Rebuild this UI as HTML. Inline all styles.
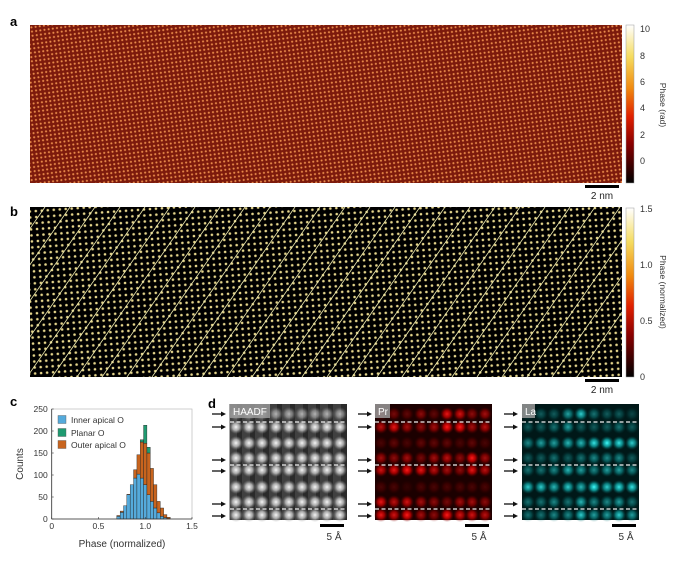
<!DOCTYPE html>
<html><head><meta charset="utf-8"><style>
body{margin:0;background:#fff;}
svg{display:block;font-family:"Liberation Sans",sans-serif;}
</style></head><body>
<svg id="fig" width="676" height="564" viewBox="0 0 676 564">
<defs>
<pattern id="patA" width="4.2" height="4.2" patternUnits="userSpaceOnUse" patternTransform="rotate(-8)">
<rect width="4.2" height="4.2" fill="#7c1a0c"/><circle cx="2.1" cy="2.1" r="1.05" fill="#e88a4a"/>
</pattern>
<pattern id="patB" width="6" height="6" patternUnits="userSpaceOnUse" patternTransform="rotate(-4)">
<rect width="6" height="6" fill="#000"/><circle cx="3" cy="3" r="1.3" fill="#e6d68c"/>
</pattern>
<linearGradient id="cmap" x1="0" y1="1" x2="0" y2="0">
<stop offset="0" stop-color="#000"/><stop offset="0.25" stop-color="#8a0000"/><stop offset="0.42" stop-color="#e02000"/>
<stop offset="0.6" stop-color="#f08a10"/><stop offset="0.8" stop-color="#f5dc60"/><stop offset="1" stop-color="#ffffff"/>
</linearGradient>
<radialGradient id="gW"><stop offset="0" stop-color="#fff"/><stop offset="0.5" stop-color="#ccc" stop-opacity="0.8"/><stop offset="1" stop-color="#888" stop-opacity="0"/></radialGradient>
<radialGradient id="gR"><stop offset="0" stop-color="#ff1a1a"/><stop offset="0.5" stop-color="#d00000" stop-opacity="0.8"/><stop offset="1" stop-color="#600" stop-opacity="0"/></radialGradient>
<radialGradient id="gC"><stop offset="0" stop-color="#40ffff"/><stop offset="0.5" stop-color="#10b0b0" stop-opacity="0.8"/><stop offset="1" stop-color="#055" stop-opacity="0"/></radialGradient>
</defs>

<!-- panel labels -->
<text x="10" y="26" font-size="13" font-weight="bold">a</text>
<text x="10" y="216" font-size="13" font-weight="bold">b</text>
<text x="10" y="406" font-size="13" font-weight="bold">c</text>
<text x="208" y="408" font-size="13" font-weight="bold">d</text>

<!-- panel a -->
<rect x="30" y="25" width="592" height="158" fill="url(#patA)"/>
<rect x="626" y="25" width="8" height="158" fill="url(#cmap)" stroke="#999" stroke-width="0.5"/>
<g font-size="9" fill="#333">
<text x="640" y="32">10</text><text x="640" y="59">8</text><text x="640" y="85">6</text><text x="640" y="111">4</text><text x="640" y="138">2</text><text x="640" y="164">0</text>
</g>
<text transform="translate(660,105) rotate(90)" font-size="8.5" fill="#333" text-anchor="middle">Phase (rad)</text>
<rect x="585" y="185" width="34" height="3" fill="#000"/>
<text x="602" y="199" font-size="10" text-anchor="middle" fill="#222">2 nm</text>

<!-- panel b -->
<rect x="30" y="207" width="592" height="170" fill="url(#patB)"/>
<g id="bLines" stroke="#f0ecb0" stroke-width="0.8"></g>
<rect x="626" y="208" width="8" height="169" fill="url(#cmap)" stroke="#999" stroke-width="0.5"/>
<g font-size="9" fill="#333">
<text x="640" y="212">1.5</text><text x="640" y="268">1.0</text><text x="640" y="324">0.5</text><text x="640" y="380">0</text>
</g>
<text transform="translate(660,292) rotate(90)" font-size="8.5" fill="#333" text-anchor="middle">Phase (normalized)</text>
<rect x="585" y="379" width="34" height="3" fill="#000"/>
<text x="602" y="393" font-size="10" text-anchor="middle" fill="#222">2 nm</text>

<!-- panel c -->
<g id="hist"></g>

<!-- panel d -->
<g id="pd"></g>
</svg>
<script>
// ---- Panel c data ----
const binCenters = [0.714,0.75,0.786,0.821,0.857,0.893,0.929,0.964,1.0,1.036,1.071,1.107,1.143,1.179,1.214,1.25];
const innerApical = [6,15,30,55,78,93,102,93,78,55,40,25,14,6,3,1];
const outerApical = [2,3,0,1,0,19,44,82,94,95,75,53,26,19,7,3];
const planar = [0,0,0,0,0,0,0,5,41,13,0,0,0,0,0,0];
const xTicks = [0,0.5,1.0,1.5];
const yTicks = [0,50,100,150,200,250];
const binWidth = 0.0357;

const NS="http://www.w3.org/2000/svg";
function mk(tag,attrs,parent){const e=document.createElementNS(NS,tag);for(const k in attrs)e.setAttribute(k,attrs[k]);parent.appendChild(e);return e;}

const px0=51.7,px1=192,py0=519,py1=409;
const xs=v=>px0+(v/1.5)*(px1-px0);
const ys=v=>py0-(v/250)*(py0-py1);
const H=document.getElementById('hist');
const frame=mk('rect',{x:px0,y:py1,width:px1-px0,height:py0-py1,fill:'none',stroke:'#bbb','stroke-width':0.7},H);


const series=[[innerApical,'#55aadb','inner'],[outerApical,'#c8641e','outer'],[planar,'#1f9a70','planar']];
binCenters.forEach((c,i)=>{
  let base=0;
  series.forEach(([arr,col,nm])=>{
    const v=arr[i]; if(v<=0) return;
    const r=mk('rect',{x:xs(c-binWidth/2),y:ys(base+v),width:xs(binWidth)-xs(0),height:ys(base)-ys(base+v),fill:col,stroke:'#222','stroke-width':0.4},H);
    
    
    base+=v;
  });
});
const ax=mk('line',{x1:px0,y1:py0,x2:px1,y2:py0,stroke:'#333','stroke-width':0.8},H);


const ay=mk('line',{x1:px0,y1:py0,x2:px0,y2:py1,stroke:'#333','stroke-width':0.8},H);


xTicks.forEach(t=>{
  mk('line',{x1:xs(t),y1:py0,x2:xs(t),y2:py0-2,stroke:'#333','stroke-width':0.6},H);
  const tx=mk('text',{x:xs(t),y:py0+10,'font-size':8.5,'text-anchor':'middle',fill:'#333'},H);
  tx.textContent=t===0?'0':t.toFixed(1);
  
  
});
yTicks.forEach(t=>{
  mk('line',{x1:px0,y1:ys(t),x2:px0+2,y2:ys(t),stroke:'#333','stroke-width':0.6},H);
  const tx=mk('text',{x:px0-4,y:ys(t)+3,'font-size':8.5,'text-anchor':'end',fill:'#333'},H);
  tx.textContent=t;
  
  
});
const xt=mk('text',{x:122,y:547,'font-size':10,'text-anchor':'middle',fill:'#333'},H);
xt.textContent='Phase (normalized)';


const yt=mk('text',{transform:'translate(23,464) rotate(-90)','font-size':10,'text-anchor':'middle',fill:'#333'},H);
yt.textContent='Counts';


[['Inner apical O','#55aadb',420],['Planar O','#1f9a70',433],['Outer apical O','#c8641e',445]].forEach(([l,c,y],i)=>{
  const b=mk('rect',{x:58,y:y-4.5,width:8,height:8,fill:c,stroke:'#555','stroke-width':0.4},H);
  
  
  const t=mk('text',{x:71,y:y+3,'font-size':8.5,fill:'#333'},H);
  t.textContent=l;
  
  
});

// ---- Panel b diagonal lines ----
const BL=document.getElementById('bLines');
for(let x=20;x<720;x+=25){
  const x1=x-118,y1=377,x2=x,y2=207;
  mk('line',{x1:x1,y1:y1,x2:x2,y2:y2},BL);
}
BL.setAttribute('clip-path','url(#clipB)');
const cp=mk('clipPath',{id:'clipB'},document.querySelector('defs'));
mk('rect',{x:30,y:207,width:592,height:170},cp);

// ---- Panel d ----
const PD=document.getElementById('pd');
const rowsY=[414,427,443,458,470,487,502,515];
const cols=k=>[3,16,29,43,56,69,82,94,107].map(v=>v);
const panels=[[230,'#2a2a2a','url(#gW)','HAADF',40,212],[375,'#1c0000','url(#gR)','Pr',15,358],[522,'#001818','url(#gC)','La',13,504]];
const prI=[[.3,.4,.3,.5,.3,.9,.8,.5,.6],[.7,.9,.6,.5,.6,1,1,.6,.7],[.2,.3,.2,.3,.3,.3,.2,.3,.2],[.6,.5,.6,.4,.6,.7,.5,1,.6],[.8,.9,1,.9,.7,.6,.5,.9,.7],[.2,.2,.1,.2,.2,.2,.2,.2,.2],[.9,.7,.8,.6,.5,.4,.6,.6,.5],[.9,.8,1,.6,.5,1,.8,.8,.7]];
const laI=[[.2,.3,.3,.6,.8,.4,.3,.3,.2],[.3,.3,.4,.6,.3,.3,.3,.4,.3],[.5,.6,.6,.7,.7,.9,1,.9,.8],[.3,.3,.4,.3,.4,.5,.5,.5,.3],[.4,.4,.5,.7,.6,.5,.6,.6,.5],[.8,.8,.7,.8,.7,1,.8,.9,.9],[.4,.4,.5,.4,.7,.5,.5,.6,.4],[.4,.4,.5,.5,.8,.6,.6,.8,.6]];
panels.forEach(([x0,bg,grad,lab,lw,arx],pi)=>{
  const g=mk('g',{},PD);
  
  
  mk('rect',{x:x0,y:404,width:117,height:116,fill:bg},g);
  if(pi===0){[3,16,29,43,56,69,82,94,107].forEach(c=>mk('rect',{x:x0+c-4,y:404,width:8,height:116,fill:'#555',opacity:0.5},g));}
  rowsY.forEach((y,ri)=>{
    [3,16,29,43,56,69,82,94,107].forEach((c,ci)=>{
      let op=1;
      if(pi===1) op=prI[ri][ci]; else if(pi===2) op=laI[ri][ci]; else op=(ri===0?0.6:0.95);
      mk('circle',{cx:x0+c+3,cy:y,r:7,fill:grad,opacity:op},g);
    });
  });
  [422,465,509].forEach(y=>mk('line',{x1:x0,y1:y,x2:x0+117,y2:y,stroke:'#eee','stroke-width':1.3,'stroke-dasharray':'4 2.5'},g));
  mk('rect',{x:x0,y:404,width:lw,height:14,fill:'#999',opacity:0.85},g);
  const t=mk('text',{x:x0+3,y:415,'font-size':10,fill:'#fff'},g);
  t.textContent=lab;
  
  
  [414,427,460,471,504,516].forEach(y=>{
    mk('line',{x1:arx,y1:y,x2:arx+10,y2:y,stroke:'#111','stroke-width':1.3},g);
    mk('polygon',{points:`${arx+14},${y} ${arx+9},${y-2.5} ${arx+9},${y+2.5}`,fill:'#111'},g);
  });
  const sb=mk('rect',{x:x0+90,y:524,width:24,height:3,fill:'#000'},g);
  
  
  const st=mk('text',{x:x0+104,y:540,'font-size':10,'text-anchor':'middle',fill:'#333'},g);
  st.textContent='5 Å';
  
  
});
</script>
</body></html>
